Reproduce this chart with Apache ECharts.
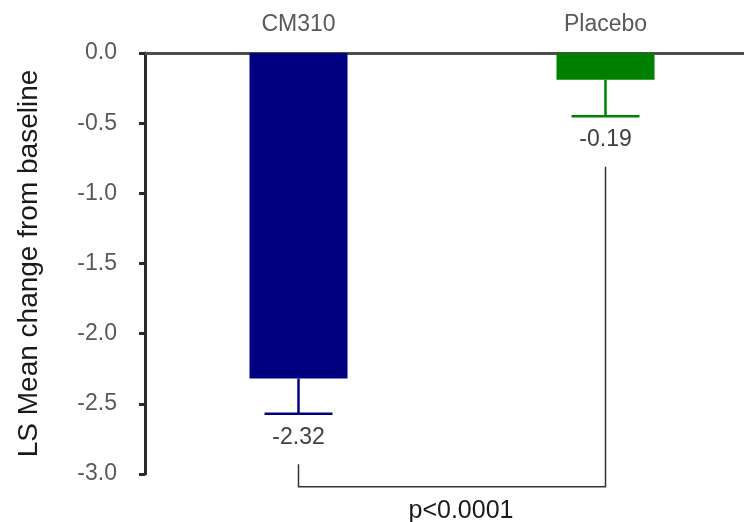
<!DOCTYPE html>
<html>
<head>
<meta charset="utf-8">
<script src="https://cdn.jsdelivr.net/npm/echarts@6/dist/echarts.min.js"></script>
<style>
  html, body { margin: 0; padding: 0; background: #fff; overflow: hidden; }
  /* plot area runs slightly past the right edge of the window, as in the original */
  #main { width: 759px; height: 522px; }
</style>
</head>
<body>
<div id="main"></div>
<script>
// groups and results
const groups = ['CM310', 'Placebo'];
const means = [-2.32, -0.19];
const lowerErr = [-2.57, -0.45];
const barColors = ['#000080', '#008000'];
// bracket between the two groups (value-axis units)
const bracketStart = [-2.93, -0.81];
const bracketBottom = -3.09;
const pText = 'p<0.0001';

const FONT = 'Liberation Sans, Arial, sans-serif';
const chart = echarts.init(document.getElementById('main'), null, { renderer: 'canvas' });

const errData = groups.map(function (g, i) {
  return [i, means[i], lowerErr[i]];
});

const option = {
  backgroundColor: '#ffffff',
  animation: false,
  textStyle: { fontFamily: FONT },
  grid: { left: 145, right: 0, top: 53, bottom: 48, containLabel: false },
  xAxis: {
    type: 'category',
    position: 'top',
    data: groups,
    axisTick: { show: false },
    axisLine: { lineStyle: { color: '#4d4d4d', width: 3 } },
    axisLabel: { color: '#595959', fontSize: 23, margin: 17 },
    splitLine: { show: false }
  },
  yAxis: {
    type: 'value',
    min: -3,
    max: 0,
    interval: 0.5,
    name: 'LS Mean change from baseline',
    nameLocation: 'middle',
    nameRotate: 90,
    nameGap: 102,
    nameTextStyle: { color: '#1a1a1a', fontSize: 28 },
    axisLine: { show: true, onZero: false, lineStyle: { color: '#2b2b2b', width: 3 } },
    axisTick: { show: true, length: 6, lineStyle: { color: '#2b2b2b', width: 3 } },
    axisLabel: {
      color: '#595959', fontSize: 23, margin: 28,
      formatter: function (v) { return v.toFixed(1); }
    },
    splitLine: { show: false }
  },
  series: [
    {
      type: 'bar',
      barWidth: 98,
      data: means.map(function (v, i) {
        return { value: v, itemStyle: { color: barColors[i] } };
      }),
      z: 2
    },
    {
      type: 'custom',
      data: errData,
      z: 3,
      renderItem: function (params, api) {
        const i = api.value(0);
        const top = api.coord([i, api.value(1)]);
        const bot = api.coord([i, api.value(2)]);
        const half = 34;
        const color = barColors[i];
        return {
          type: 'group',
          children: [
            { type: 'line', shape: { x1: top[0], y1: top[1], x2: bot[0], y2: bot[1] },
              style: { stroke: color, lineWidth: 2.5 } },
            { type: 'line', shape: { x1: bot[0] - half, y1: bot[1], x2: bot[0] + half, y2: bot[1] },
              style: { stroke: color, lineWidth: 2.5 } },
            { type: 'text', x: bot[0], y: bot[1] + 24,
              style: { text: api.value(1).toFixed(2), fill: '#404040', fontSize: 23,
                fontFamily: FONT, align: 'center', verticalAlign: 'middle' } }
          ]
        };
      }
    },
    {
      type: 'custom',
      data: [[0, 1]],
      z: 3,
      clip: false,
      renderItem: function (params, api) {
        const a = api.coord([0, bracketStart[0]]);
        const aB = api.coord([0, bracketBottom]);
        const bB = api.coord([1, bracketBottom]);
        const b = api.coord([1, bracketStart[1]]);
        return {
          type: 'group',
          children: [
            { type: 'polyline', shape: { points: [a, aB, bB, b] },
              style: { stroke: '#333', lineWidth: 1.5, fill: null } },
            { type: 'text', x: (aB[0] + bB[0]) / 2 + 9, y: aB[1] + 24,
              style: { text: pText, fill: '#1a1a1a', fontSize: 25,
                fontFamily: FONT, align: 'center', verticalAlign: 'middle' } }
          ]
        };
      }
    }
  ]
};

chart.setOption(option);
</script>
</body>
</html>
